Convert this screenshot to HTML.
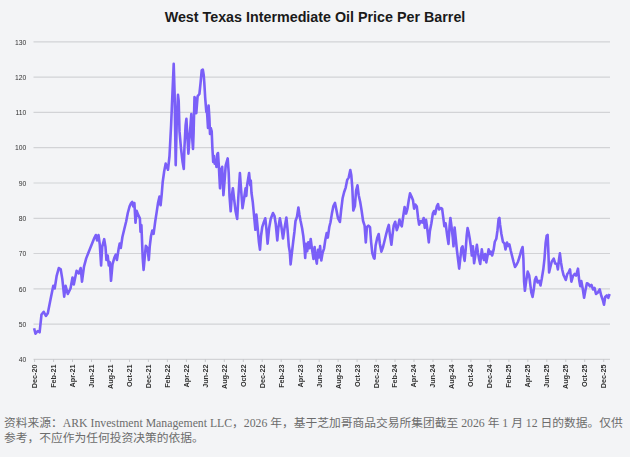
<!DOCTYPE html>
<html lang="zh"><head><meta charset="utf-8"><title>West Texas Intermediate Oil Price Per Barrel</title>
<style>
html,body{margin:0;padding:0;}
body{width:630px;height:457px;overflow:hidden;background:#f3f4f6;position:relative;font-family:"Liberation Sans","Noto Sans CJK SC",sans-serif;}
.title{position:absolute;left:0;top:8.9px;width:630px;text-align:center;font-weight:bold;font-size:14.3px;line-height:16px;color:#1a1a1a;letter-spacing:0px;}
.yl{font-family:"Liberation Sans",sans-serif;font-size:6.8px;fill:#333;}
.xl{font-family:"Liberation Sans",sans-serif;font-size:6.6px;fill:#333;font-weight:bold;}
.foot{position:absolute;left:4px;top:415.9px;width:626px;font-family:"Liberation Serif","Noto Sans CJK SC",serif;font-size:11.75px;line-height:15.6px;color:#6c6c6c;white-space:nowrap;}
</style></head><body>
<div class="title">West Texas Intermediate Oil Price Per Barrel</div>
<svg width="630" height="457" viewBox="0 0 630 457" style="position:absolute;left:0;top:0;filter:blur(0.3px)">
<line x1="33.5" x2="610" y1="41.9" y2="41.9" stroke="#d2d3d6" stroke-width="1.2"/>
<line x1="33.5" x2="610" y1="77.2" y2="77.2" stroke="#d2d3d6" stroke-width="1.2"/>
<line x1="33.5" x2="610" y1="112.4" y2="112.4" stroke="#d2d3d6" stroke-width="1.2"/>
<line x1="33.5" x2="610" y1="147.7" y2="147.7" stroke="#d2d3d6" stroke-width="1.2"/>
<line x1="33.5" x2="610" y1="183.0" y2="183.0" stroke="#d2d3d6" stroke-width="1.2"/>
<line x1="33.5" x2="610" y1="218.3" y2="218.3" stroke="#d2d3d6" stroke-width="1.2"/>
<line x1="33.5" x2="610" y1="253.5" y2="253.5" stroke="#d2d3d6" stroke-width="1.2"/>
<line x1="33.5" x2="610" y1="288.8" y2="288.8" stroke="#d2d3d6" stroke-width="1.2"/>
<line x1="33.5" x2="610" y1="324.1" y2="324.1" stroke="#d2d3d6" stroke-width="1.2"/>
<line x1="33.5" x2="610" y1="359.3" y2="359.3" stroke="#d2d3d6" stroke-width="1.2"/>
<line x1="34.6" x2="34.6" y1="359" y2="362" stroke="#c9cacd" stroke-width="1"/>
<line x1="53.6" x2="53.6" y1="359" y2="362" stroke="#c9cacd" stroke-width="1"/>
<line x1="72.5" x2="72.5" y1="359" y2="362" stroke="#c9cacd" stroke-width="1"/>
<line x1="91.5" x2="91.5" y1="359" y2="362" stroke="#c9cacd" stroke-width="1"/>
<line x1="110.5" x2="110.5" y1="359" y2="362" stroke="#c9cacd" stroke-width="1"/>
<line x1="129.5" x2="129.5" y1="359" y2="362" stroke="#c9cacd" stroke-width="1"/>
<line x1="148.4" x2="148.4" y1="359" y2="362" stroke="#c9cacd" stroke-width="1"/>
<line x1="167.4" x2="167.4" y1="359" y2="362" stroke="#c9cacd" stroke-width="1"/>
<line x1="186.4" x2="186.4" y1="359" y2="362" stroke="#c9cacd" stroke-width="1"/>
<line x1="205.3" x2="205.3" y1="359" y2="362" stroke="#c9cacd" stroke-width="1"/>
<line x1="224.3" x2="224.3" y1="359" y2="362" stroke="#c9cacd" stroke-width="1"/>
<line x1="243.3" x2="243.3" y1="359" y2="362" stroke="#c9cacd" stroke-width="1"/>
<line x1="262.2" x2="262.2" y1="359" y2="362" stroke="#c9cacd" stroke-width="1"/>
<line x1="281.2" x2="281.2" y1="359" y2="362" stroke="#c9cacd" stroke-width="1"/>
<line x1="300.2" x2="300.2" y1="359" y2="362" stroke="#c9cacd" stroke-width="1"/>
<line x1="319.2" x2="319.2" y1="359" y2="362" stroke="#c9cacd" stroke-width="1"/>
<line x1="338.1" x2="338.1" y1="359" y2="362" stroke="#c9cacd" stroke-width="1"/>
<line x1="357.1" x2="357.1" y1="359" y2="362" stroke="#c9cacd" stroke-width="1"/>
<line x1="376.1" x2="376.1" y1="359" y2="362" stroke="#c9cacd" stroke-width="1"/>
<line x1="395.0" x2="395.0" y1="359" y2="362" stroke="#c9cacd" stroke-width="1"/>
<line x1="414.0" x2="414.0" y1="359" y2="362" stroke="#c9cacd" stroke-width="1"/>
<line x1="433.0" x2="433.0" y1="359" y2="362" stroke="#c9cacd" stroke-width="1"/>
<line x1="451.9" x2="451.9" y1="359" y2="362" stroke="#c9cacd" stroke-width="1"/>
<line x1="470.9" x2="470.9" y1="359" y2="362" stroke="#c9cacd" stroke-width="1"/>
<line x1="489.9" x2="489.9" y1="359" y2="362" stroke="#c9cacd" stroke-width="1"/>
<line x1="508.9" x2="508.9" y1="359" y2="362" stroke="#c9cacd" stroke-width="1"/>
<line x1="527.8" x2="527.8" y1="359" y2="362" stroke="#c9cacd" stroke-width="1"/>
<line x1="546.8" x2="546.8" y1="359" y2="362" stroke="#c9cacd" stroke-width="1"/>
<line x1="565.8" x2="565.8" y1="359" y2="362" stroke="#c9cacd" stroke-width="1"/>
<line x1="584.7" x2="584.7" y1="359" y2="362" stroke="#c9cacd" stroke-width="1"/>
<line x1="603.7" x2="603.7" y1="359" y2="362" stroke="#c9cacd" stroke-width="1"/>
<text x="26.4" y="44.6" text-anchor="end" class="yl">130</text>
<text x="26.4" y="79.9" text-anchor="end" class="yl">120</text>
<text x="26.4" y="115.1" text-anchor="end" class="yl">110</text>
<text x="26.4" y="150.4" text-anchor="end" class="yl">100</text>
<text x="26.4" y="185.7" text-anchor="end" class="yl">90</text>
<text x="26.4" y="221.0" text-anchor="end" class="yl">80</text>
<text x="26.4" y="256.2" text-anchor="end" class="yl">70</text>
<text x="26.4" y="291.5" text-anchor="end" class="yl">60</text>
<text x="26.4" y="326.8" text-anchor="end" class="yl">50</text>
<text x="26.4" y="362.0" text-anchor="end" class="yl">40</text>
<text transform="translate(37.0,364.5) rotate(-90) scale(1.10,1)" text-anchor="end" class="xl">Dec-20</text>
<text transform="translate(56.0,364.5) rotate(-90) scale(1.10,1)" text-anchor="end" class="xl">Feb-21</text>
<text transform="translate(74.9,364.5) rotate(-90) scale(1.10,1)" text-anchor="end" class="xl">Apr-21</text>
<text transform="translate(93.9,364.5) rotate(-90) scale(1.10,1)" text-anchor="end" class="xl">Jun-21</text>
<text transform="translate(112.9,364.5) rotate(-90) scale(1.10,1)" text-anchor="end" class="xl">Aug-21</text>
<text transform="translate(131.9,364.5) rotate(-90) scale(1.10,1)" text-anchor="end" class="xl">Oct-21</text>
<text transform="translate(150.8,364.5) rotate(-90) scale(1.10,1)" text-anchor="end" class="xl">Dec-21</text>
<text transform="translate(169.8,364.5) rotate(-90) scale(1.10,1)" text-anchor="end" class="xl">Feb-22</text>
<text transform="translate(188.8,364.5) rotate(-90) scale(1.10,1)" text-anchor="end" class="xl">Apr-22</text>
<text transform="translate(207.7,364.5) rotate(-90) scale(1.10,1)" text-anchor="end" class="xl">Jun-22</text>
<text transform="translate(226.7,364.5) rotate(-90) scale(1.10,1)" text-anchor="end" class="xl">Aug-22</text>
<text transform="translate(245.7,364.5) rotate(-90) scale(1.10,1)" text-anchor="end" class="xl">Oct-22</text>
<text transform="translate(264.6,364.5) rotate(-90) scale(1.10,1)" text-anchor="end" class="xl">Dec-22</text>
<text transform="translate(283.6,364.5) rotate(-90) scale(1.10,1)" text-anchor="end" class="xl">Feb-23</text>
<text transform="translate(302.6,364.5) rotate(-90) scale(1.10,1)" text-anchor="end" class="xl">Apr-23</text>
<text transform="translate(321.6,364.5) rotate(-90) scale(1.10,1)" text-anchor="end" class="xl">Jun-23</text>
<text transform="translate(340.5,364.5) rotate(-90) scale(1.10,1)" text-anchor="end" class="xl">Aug-23</text>
<text transform="translate(359.5,364.5) rotate(-90) scale(1.10,1)" text-anchor="end" class="xl">Oct-23</text>
<text transform="translate(378.5,364.5) rotate(-90) scale(1.10,1)" text-anchor="end" class="xl">Dec-23</text>
<text transform="translate(397.4,364.5) rotate(-90) scale(1.10,1)" text-anchor="end" class="xl">Feb-24</text>
<text transform="translate(416.4,364.5) rotate(-90) scale(1.10,1)" text-anchor="end" class="xl">Apr-24</text>
<text transform="translate(435.4,364.5) rotate(-90) scale(1.10,1)" text-anchor="end" class="xl">Jun-24</text>
<text transform="translate(454.3,364.5) rotate(-90) scale(1.10,1)" text-anchor="end" class="xl">Aug-24</text>
<text transform="translate(473.3,364.5) rotate(-90) scale(1.10,1)" text-anchor="end" class="xl">Oct-24</text>
<text transform="translate(492.3,364.5) rotate(-90) scale(1.10,1)" text-anchor="end" class="xl">Dec-24</text>
<text transform="translate(511.3,364.5) rotate(-90) scale(1.10,1)" text-anchor="end" class="xl">Feb-25</text>
<text transform="translate(530.2,364.5) rotate(-90) scale(1.10,1)" text-anchor="end" class="xl">Apr-25</text>
<text transform="translate(549.2,364.5) rotate(-90) scale(1.10,1)" text-anchor="end" class="xl">Jun-25</text>
<text transform="translate(568.2,364.5) rotate(-90) scale(1.10,1)" text-anchor="end" class="xl">Aug-25</text>
<text transform="translate(587.1,364.5) rotate(-90) scale(1.10,1)" text-anchor="end" class="xl">Oct-25</text>
<text transform="translate(606.1,364.5) rotate(-90) scale(1.10,1)" text-anchor="end" class="xl">Dec-25</text>
<path d="M34.1,328.2 L35.5,333.7 L37.7,331.0 L39.6,332.3 L41.5,314.5 L43.7,311.8 L45.9,315.9 L47.8,313.2 L50.5,299.5 L53.3,285.8 L54.7,288.5 L56.6,276.2 L58.8,268.0 L60.7,269.3 L62.3,278.9 L64.2,296.7 L65.6,285.8 L67.8,294.0 L70.5,288.5 L72.5,277.5 L73.8,284.4 L76.6,270.7 L78.8,273.4 L80.7,268.0 L82.0,281.6 L84.0,266.6 L86.2,258.4 L88.9,251.5 L91.6,244.7 L94.4,237.8 L95.8,235.0 L97.1,240.5 L98.5,235.0 L99.8,244.7 L101.1,265.5 L102.2,246.9 L104.2,239.2 L105.5,246.9 L106.4,260.0 L107.7,255.6 L108.8,265.5 L109.9,262.2 L111.0,280.8 L112.5,264.4 L114.3,257.8 L115.8,254.6 L116.9,260.0 L118.6,249.1 L119.7,243.6 L120.8,248.0 L122.4,237.0 L124.5,228.3 L126.1,221.7 L127.8,213.0 L129.6,206.4 L131.1,203.1 L132.2,202.0 L133.3,206.4 L134.4,203.1 L135.5,222.8 L136.6,210.8 L138.3,215.2 L139.9,218.4 L140.5,231.6 L141.4,225.0 L142.7,257.8 L143.6,269.9 L144.9,255.6 L145.8,245.8 L147.5,248.0 L148.8,260.0 L149.7,246.9 L151.0,236.0 L152.3,230.5 L153.6,233.8 L155.2,221.7 L156.7,211.9 L158.0,203.1 L159.5,196.6 L160.6,205.3 L161.7,194.4 L162.7,182.0 L164.2,171.3 L165.7,163.6 L168.0,169.7 L169.5,156.0 L170.3,140.6 L171.1,125.3 L171.8,108.6 L173.1,78.0 L173.7,63.9 L174.6,93.3 L175.7,165.1 L176.9,116.3 L178.0,94.8 L178.7,101.0 L179.5,131.4 L181.0,148.3 L182.6,162.0 L183.8,169.0 L184.4,148.3 L185.6,125.3 L186.4,118.9 L187.2,133.0 L188.4,153.6 L189.5,137.6 L190.5,125.3 L191.3,114.0 L191.8,133.0 L193.0,149.0 L193.6,133.0 L194.5,97.1 L195.6,99.4 L196.3,113.2 L197.6,96.3 L199.4,94.0 L200.6,82.6 L201.7,70.3 L202.8,69.5 L203.7,74.9 L204.3,82.6 L205.2,97.9 L206.3,111.7 L207.1,113.2 L208.0,128.0 L208.6,105.5 L209.4,118.0 L210.0,134.0 L210.8,128.0 L211.7,131.4 L212.4,148.3 L213.2,162.0 L214.0,156.0 L214.7,163.6 L215.5,160.0 L216.5,167.0 L217.2,154.4 L218.0,153.0 L218.8,165.3 L220.0,188.3 L221.1,170.0 L222.2,166.8 L223.4,195.2 L224.6,180.6 L225.7,165.3 L227.7,158.4 L228.7,173.0 L229.5,196.0 L230.7,211.3 L231.8,196.0 L232.9,188.3 L234.1,199.0 L235.6,211.3 L237.2,218.9 L238.4,196.0 L239.9,173.0 L241.0,188.3 L242.5,208.2 L244.0,199.0 L245.6,188.3 L246.3,196.0 L247.1,185.2 L249.1,173.0 L250.2,185.2 L250.8,180.5 L251.5,193.0 L252.8,202.3 L253.8,213.0 L255.4,229.8 L256.4,214.5 L257.7,228.3 L258.9,242.0 L260.0,249.7 L261.0,236.0 L262.3,226.8 L263.8,222.2 L265.3,218.3 L266.5,229.8 L267.6,243.6 L269.1,228.3 L270.7,219.0 L273.0,213.0 L274.5,216.0 L275.7,223.7 L277.3,240.5 L278.3,228.3 L279.9,218.3 L281.4,226.8 L283.0,238.5 L284.5,228.3 L286.4,217.6 L287.6,230.0 L288.8,246.0 L289.8,252.0 L290.6,264.4 L291.9,252.9 L293.4,240.0 L294.4,232.0 L295.5,221.0 L297.0,216.8 L298.4,207.5 L299.5,215.0 L300.5,220.6 L302.1,228.3 L303.3,236.0 L304.5,248.0 L305.2,258.0 L306.0,243.7 L307.2,251.3 L308.3,242.2 L309.4,248.3 L310.7,239.0 L311.9,248.3 L313.5,259.0 L314.6,247.0 L315.5,256.0 L316.8,263.6 L318.0,249.8 L319.1,257.5 L320.1,246.0 L321.3,260.5 L322.6,252.9 L324.1,248.3 L325.2,240.6 L326.7,233.0 L327.8,237.6 L329.3,227.0 L330.5,222.3 L331.9,213.6 L333.4,206.0 L335.0,202.9 L336.5,210.5 L338.0,218.2 L339.9,222.0 L341.1,210.5 L342.6,198.3 L344.1,192.2 L345.7,187.6 L347.2,179.9 L348.7,177.6 L350.3,170.0 L351.3,175.3 L352.3,187.6 L353.3,210.5 L354.9,206.0 L356.1,190.6 L357.5,185.3 L358.7,195.2 L360.2,202.0 L361.6,210.5 L363.1,221.0 L364.6,225.6 L365.8,242.5 L366.9,227.2 L368.4,225.6 L370.0,227.2 L371.0,241.0 L372.3,253.2 L373.8,257.8 L374.5,258.6 L375.6,245.5 L377.2,237.9 L378.7,234.0 L379.9,244.0 L381.4,251.7 L383.0,247.0 L384.5,241.0 L386.0,234.8 L387.6,228.7 L388.8,224.9 L389.9,234.8 L391.4,244.8 L392.5,234.8 L393.7,225.6 L395.2,221.8 L396.8,230.2 L398.3,225.6 L399.5,219.5 L400.6,224.0 L401.8,226.3 L403.2,216.5 L404.6,207.0 L406.1,213.6 L407.4,209.0 L408.8,200.0 L410.0,193.4 L411.5,196.5 L413.0,200.3 L414.1,208.7 L415.3,204.5 L416.8,206.6 L418.1,218.0 L419.1,224.6 L420.7,221.0 L422.2,222.5 L423.7,218.0 L424.8,227.9 L426.0,219.8 L427.3,229.0 L428.8,242.4 L429.9,231.0 L431.4,223.3 L432.9,213.3 L434.0,211.0 L435.2,214.1 L436.8,206.4 L438.0,204.1 L439.1,209.5 L440.6,208.0 L442.1,208.7 L443.2,217.2 L444.4,226.3 L445.6,223.3 L447.2,235.5 L448.5,244.0 L449.6,226.0 L450.4,218.0 L451.5,226.4 L452.7,237.0 L453.5,246.3 L454.6,227.5 L455.8,239.0 L456.9,250.0 L458.0,259.0 L459.2,268.6 L460.3,258.6 L461.5,247.9 L462.6,246.3 L463.7,255.5 L464.6,260.9 L465.7,249.4 L466.7,235.6 L467.6,228.0 L468.7,232.6 L469.8,239.0 L471.0,247.9 L471.8,255.5 L472.9,246.3 L474.1,263.2 L475.3,255.5 L476.9,244.8 L477.9,252.5 L479.0,258.6 L480.2,264.0 L481.8,249.4 L483.0,257.0 L484.0,260.0 L485.1,254.0 L486.3,262.4 L487.6,255.5 L488.6,249.4 L489.9,254.0 L490.9,251.7 L492.2,255.5 L493.7,249.4 L494.8,241.8 L496.3,238.7 L497.4,231.0 L498.6,218.8 L499.4,218.0 L500.1,224.9 L501.4,234.0 L502.9,241.8 L504.4,243.3 L505.5,249.4 L507.0,242.5 L508.1,246.0 L509.4,244.4 L510.7,250.5 L512.2,256.5 L513.6,262.0 L515.0,267.0 L516.5,264.8 L518.0,261.7 L519.5,257.0 L521.1,251.0 L522.6,247.0 L523.4,258.6 L524.1,281.6 L524.9,290.8 L526.1,281.6 L527.7,271.6 L529.2,275.5 L530.3,284.7 L531.3,292.3 L532.6,296.9 L533.8,289.3 L534.9,280.0 L536.1,277.0 L537.5,282.4 L539.0,280.8 L540.5,285.4 L541.8,278.5 L543.3,269.3 L544.5,258.6 L545.6,243.3 L546.7,235.7 L547.6,234.9 L548.2,247.9 L549.1,272.4 L550.2,267.8 L551.7,261.7 L553.7,258.6 L555.2,263.5 L556.8,264.0 L557.9,269.4 L559.0,259.5 L559.9,253.4 L561.0,262.5 L562.2,269.5 L563.5,275.0 L564.7,277.5 L565.8,280.0 L567.3,274.0 L568.6,272.5 L570.0,269.4 L571.4,281.7 L573.0,276.0 L574.6,274.0 L576.1,275.6 L578.0,268.7 L579.2,280.2 L580.3,286.3 L581.3,281.0 L582.6,287.9 L584.1,297.8 L585.3,291.0 L586.9,283.3 L588.4,284.0 L589.9,286.3 L591.4,284.8 L593.0,289.4 L594.5,287.9 L596.0,294.0 L597.9,292.5 L599.7,289.4 L601.2,295.5 L602.8,300.0 L604.0,304.7 L605.2,297.0 L606.8,295.5 L608.3,297.8 L609.6,294.0" fill="none" stroke="#7a5ff8" stroke-width="2.6" stroke-linejoin="round" stroke-linecap="butt"/>
</svg>
<div class="foot">资料来源：ARK Investment Management LLC，2026 年，基于芝加哥商品交易所集团截至 2026 年 1 月 12 日的数据。仅供<br>参考，不应作为任何投资决策的依据。</div>
</body></html>
